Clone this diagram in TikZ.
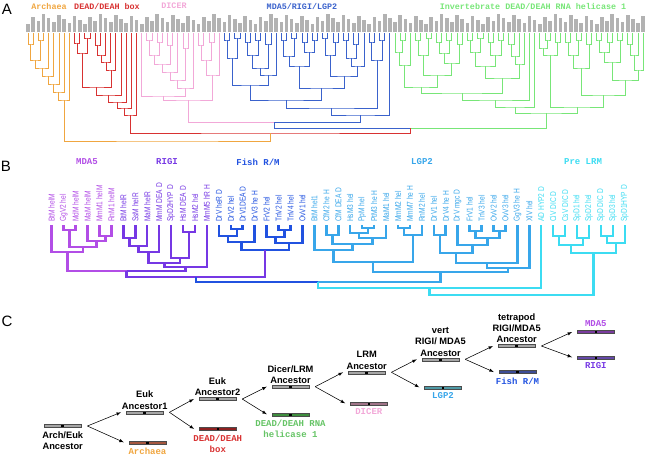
\documentclass[tikz,border=0pt]{standalone}
\usepackage{fontspec}
\setmainfont{Liberation Sans}
\newfontfamily\courfam{Liberation Mono}
\newfontfamily\narrowfam[FakeStretch=0.78]{Liberation Sans}
\usetikzlibrary{calc,positioning}

% tree colours
\definecolor{orgA}{HTML}{F0A640}
\definecolor{redA}{HTML}{D83232}
\definecolor{pnkA}{HTML}{F2A8D8}
\definecolor{bluA}{HTML}{3A62CC}
\definecolor{grnA}{HTML}{78E678}
\definecolor{mdaB}{HTML}{B24EE6}
\definecolor{rigB}{HTML}{7638E4}
\definecolor{fisB}{HTML}{2152E0}
\definecolor{lgpB}{HTML}{38A6EA}
\definecolor{preB}{HTML}{3CDCF2}
% bar colours
\definecolor{ancC}{HTML}{A6A6A6}
\definecolor{arcC}{HTML}{A5573F}
\definecolor{ddhC}{HTML}{8E2020}
\definecolor{helC}{HTML}{3E8E3E}
\definecolor{dicC}{HTML}{A07488}
\definecolor{lgpC}{HTML}{4E9AA6}
\definecolor{fisC}{HTML}{3D4D96}
\definecolor{mdaC}{HTML}{7A3C9E}
\definecolor{rigC}{HTML}{6448A8}

% join two clades (a),(b) at depth y, new clade coordinate (name)
\newcommand{\jn}[5][]{%
  \coordinate (tmp) at ($(#2)!.5!(#3)$);
  \coordinate (#5) at (tmp |- 0,#4);
  \draw[#1] (#2) |- (#5) -| (#3);}
% same, left and right half in their own colour
\newcommand{\jnx}[6]{%
  \coordinate (tmp) at ($(#3)!.5!(#4)$);
  \coordinate (#6) at (tmp |- 0,#5);
  \draw[#1] (#3) |- (#6);
  \draw[#2] (#6) -| (#4);}

\begin{document}
\begin{tikzpicture}[x=1pt, y=-1pt,
    panel/.style={font=\fontsize{15}{15}\selectfont, inner sep=0pt},
    tag/.style={font=\courfam\bfseries\fontsize{9}{11.5}\selectfont, align=center, inner sep=0.6pt},
    tagA/.style={font=\courfam\bfseries\fontsize{8.4}{9}\selectfont, inner sep=0pt},
    anc/.style={font=\bfseries\fontsize{9.3}{11.3}\selectfont, align=center, inner sep=0.6pt},
    leafB/.style={font=\narrowfam\fontsize{8.5}{9}\selectfont, rotate=90, anchor=west, inner sep=0pt},
    treeA/.style={line width=0.9pt},
    treeB/.style={line width=2.5pt},
    bar/.style={draw=black!70, line width=.4pt, minimum width=37pt, minimum height=3.2pt, inner sep=0pt,
      path picture={\fill[black] ([xshift=-1.3pt]path picture bounding box.south) rectangle ([xshift=1.3pt]path picture bounding box.north);}},
    evo/.style={-latex, line width=.55pt}]
\useasboundingbox (0,0) rectangle (653,459);

%% ---------------- A
\node[panel] (lblA) at (7,9) {A};
\node[tagA, text=orgA] (hA1) at (49,6) {Archaea};
\node[tagA, text=redA] (hA2) at (107,6) {DEAD/DEAH box};
\node[tagA, text=pnkA] (hA3) at (174,6) {DICER};
\node[tagA, text=bluA] (hA4) at (302,6) {MDA5/RIGI/LGP2};
\node[tagA, text=grnA] (hA5) at (533,6) {Invertebrate DEAD/DEAH RNA helicase 1};

\foreach \i in {0,...,119} {
  \coordinate (a\i) at ({28+5.17*\i},33);
  \fill[black!30] ({28+5.17*\i-1.8},32) rectangle ++(3.6,{-(8+mod(7*\i,11))});
}
\begin{scope}[treeA]
\foreach \l/\r/\y/\n in {a0/a1/44/o1, a2/a3/40/o2, o1/o2/60/o3, o3/a4/68/o4, o4/a5/76/o5,
    o5/a6/84/o6, o6/a7/92/o7, o7/a8/100/o8}
  {\jn[orgA]{\l}{\r}{\y}{\n}}
\foreach \l/\r/\y/\n in {a9/a10/43/r1, a11/a12/38/r2, r1/r2/53/r3, a13/a14/45/r4, r4/a15/55/r5,
    r5/a16/62/r6, r6/a17/70/r7, r3/r7/87/r8, r8/a18/95/r9, r9/a19/102/r10, r10/a20/108/r11,
    r11/a21/115/r12}
  {\jn[redA]{\l}{\r}{\y}{\n}}
\foreach \l/\r/\y/\n in {a23/a24/40/p1, a25/a26/42/p2, p1/p2/55/p3, a27/a28/45/p4, p3/p4/64/p5,
    p5/a29/72/p6, a30/a31/48/p7, p6/p7/80/p8, p8/a32/88/p9, a33/a34/45/p10, a35/a36/42/p11,
    p10/p11/60/p12, p12/a37/75/p13, a22/p9/96/p14, p14/p13/100/p15}
  {\jn[pnkA]{\l}{\r}{\y}{\n}}
\foreach \l/\r/\y/\n in {a38/a39/40/u1, a40/a41/38/u2, a42/a43/42/u3, a44/a45/40/u4, a46/a47/44/u5,
    u1/u2/58/u6, u3/u4/55/u7, u7/u5/68/u8, u8/a48/75/u9, u6/u9/85/u10,
    a49/a50/40/v1, a51/a52/38/v2, a53/a54/42/v3, a55/a56/40/v4, a57/a58/38/v5, a59/a60/42/v6,
    a61/a62/40/v7, a63/a64/44/v8, v1/v2/56/v9, v3/v4/52/v10, v9/v10/66/v11, v5/v6/55/v12,
    v7/v8/58/v13, v13/a65/66/v14, v12/v14/76/v15, v11/v15/88/v16, u10/v16/100/v17,
    a66/a67/42/w1, a68/a69/40/w2, w1/w2/60/w3, v17/w3/108/w4, w4/a70/115/w5}
  {\jn[bluA]{\l}{\r}{\y}{\n}}
\foreach \l/\r/\y/\n in {a72/a73/40/x1, a71/x1/52/x2, x2/a74/65/x3, a75/a76/40/x4, a77/a78/38/x5,
    x4/x5/55/x6, a79/a80/42/x7, a81/a82/40/x8, x7/x8/53/x9, a83/a84/44/x10, x9/x10/63/x11,
    x6/x11/75/x12, x3/x12/87/x13, a85/a86/40/x14, a87/a88/38/x15, x14/x15/52/x16,
    a89/a90/42/x17, a91/a92/40/x18, x17/x18/55/x19, x16/x19/66/x20, a93/a94/44/x21,
    x21/a95/56/x22, x22/a96/64/x23, x20/x23/78/x24, x13/x24/93/x25, x25/a97/100/x26,
    x26/a98/107/x27,
    a100/a101/40/y1, a99/y1/48/y2, a102/a103/42/y3, y2/y3/55/y4, a104/a105/42/y5,
    a106/a107/40/y6, y5/y6/55/y7, a108/a109/44/y8, y7/y8/68/y9, a110/a111/40/y10,
    a112/a113/42/y11, y10/y11/52/y12, a114/a115/40/y13, y12/y13/62/y14, a116/a117/44/y15,
    y15/a118/55/y16, y16/a119/70/y17, y14/y17/80/y18, y9/y18/95/y19, y4/y19/107/y20,
    x27/y20/113/y21}
  {\jn[grnA]{\l}{\r}{\y}{\n}}
\jnx{pnkA}{bluA}{p15}{w5}{122}{n3}
\jnx{bluA}{grnA}{n3}{y21}{128}{n2}
\jn[redA]{r12}{n2}{133}{n1}
\jn[orgA]{o8}{n1}{141}{n0}
\end{scope}

%% ---------------- B
\node[panel] (lblB) at (6,166) {B};
\node[tag, text=mdaB] (hB1) at (87,162) {MDA5};
\node[tag, text=rigB] (hB2) at (167,162) {RIGI};
\node[tag, text=fisB] (hB3) at (258,162) {Fish R/M};
\node[tag, text=lgpB] (hB4) at (422,162) {LGP2};
\node[tag, text=preB] (hB5) at (583,162) {Pre LRM};

\foreach \t [count=\i from 0] in {BtM helM,GgV2 hel,MdM helM,MaM helM,MmM1 helM,RnM1 helM}
  {\coordinate (c\i) at ({51.7+11.94*\i},225); \node[leafB, text=mdaB] (t\i) at ({51.7+11.94*\i},222) {\t};}
\foreach \t [count=\i from 6] in {BtM helR,SsM helR,MaM helR,MmM DEA D,SpD2HYP D,HsM DEA D,HsM2 hel,MmM5 hR H}
  {\coordinate (c\i) at ({51.7+11.94*\i},225); \node[leafB, text=rigB] (t\i) at ({51.7+11.94*\i},222) {\t};}
\foreach \t [count=\i from 14] in {DrV heR D,DrV2 hel,DrV1DEA D,DrV3 he H,FrV2 hel,TnV2 hel,TnV4 hel,OvV1 hel}
  {\coordinate (c\i) at ({51.7+11.94*\i},225); \node[leafB, text=fisB] (t\i) at ({51.7+11.94*\i},222) {\t};}
\foreach \t [count=\i from 22] in {BtM hel1,CfM2 he H,CfM DEA D,HsM3 hel,PpM hel,PtM3 he H,MaM1 hel,
    MmM2 hel,MmM7 he H,RnM2 hel,DrV1 hel,DrV4 he H,DrV mgc D,FrV1 hel,TnV3 hel,OvV2 hel,OvV3 hel,GgV3 he H,XlV hel}
  {\coordinate (c\i) at ({51.7+11.94*\i},225); \node[leafB, text=lgpB] (t\i) at ({51.7+11.94*\i},222) {\t};}
\foreach \t [count=\i from 41] in {AD HYP2 D,CiV DIC D,CsV DIC D,SpD1 hel,SpD2 hel,SpD DIC D,SpD3 hel,SpD1HYP D}
  {\coordinate (c\i) at ({51.7+11.94*\i},225); \node[leafB, text=preB] (t\i) at ({51.7+11.94*\i},222) {\t};}

\begin{scope}[treeB]
\foreach \l/\r/\y/\n in {c1/c2/230/km1, c4/c5/236/km2, c3/km2/241/km3, km1/km3/247/km4, c0/km4/252/km5}
  {\jn[mdaB]{\l}{\r}{\y}{\n}}
\foreach \l/\r/\y/\n in {c6/c7/238/kg1, kg1/c8/246/kg2, kg2/c9/252/kg3, c11/c12/232/kg4,
    c10/kg4/258/kg5, kg3/kg5/263/kg6, kg6/c13/267/kg7}
  {\jn[rigB]{\l}{\r}{\y}{\n}}
\foreach \l/\r/\y/\n in {c15/c16/229/kf1, c14/kf1/236/kf2, kf2/c17/242/kf3, c19/c20/230/kf4,
    c18/kf4/237/kf5, kf5/c21/243/kf6, kf3/kf6/250/kf7}
  {\jn[fisB]{\l}{\r}{\y}{\n}}
\foreach \l/\r/\y/\n in {c23/c24/235/kl1, c26/c27/228/kl2, c25/kl2/233/kl3, kl3/c28/238/kl4,
    kl1/kl4/244/kl5, c22/kl5/250/kl6, c29/c30/228/kl7, kl7/c31/235/kl8, kl6/kl8/262/kl9,
    c32/c33/235/kr1, c35/c36/231/kr2, c37/c38/231/kr3, kr2/kr3/238/kr4, c34/kr4/245/kr5,
    kr1/kr5/253/kr6, kr6/c39/263/kr7, kr7/c40/268/kr8, kl9/kr8/272/klg}
  {\jn[lgpB]{\l}{\r}{\y}{\n}}
\foreach \l/\r/\y/\n in {c42/c43/236/kp1, c44/c45/238/kp2, kp1/kp2/245/kp3, c46/c47/236/kp4,
    kp4/c48/243/kp5, kp3/kp5/253/kp6}
  {\jn[preB]{\l}{\r}{\y}{\n}}
\jnx{mdaB}{rigB}{km5}{kg7}{271}{kmr}
\jn[rigB]{kmr}{kf7}{277}{kmf}
\jnx{fisB}{lgpB}{kmf}{klg}{282}{kt}
\jn[preB]{kt}{c41}{288}{kq}
\jn[preB]{kq}{kp6}{295}{kroot}
\end{scope}

%% ---------------- C
\node[panel] (lblC) at (7,321) {C};

\node[bar, fill=ancC] (arch) at (62.7,426) {};
\node[bar, fill=ancC] (euk1) at (144.7,412.3) {};
\node[bar, fill=arcC] (arc) at (147.5,442.3) {};
\node[bar, fill=ancC] (euk2) at (217.5,399) {};
\node[bar, fill=ddhC] (ddh) at (217.8,429) {};
\node[bar, fill=ancC] (dlrm) at (290.5,386.7) {};
\node[bar, fill=helC] (hel) at (290.5,414.3) {};
\node[bar, fill=ancC] (lrm) at (366.7,372.3) {};
\node[bar, fill=dicC] (dic) at (368.8,403.3) {};
\node[bar, fill=ancC] (vert) at (440.5,359.3) {};
\node[bar, fill=lgpC] (lgp) at (443,387.3) {};
\node[bar, fill=ancC] (tetra) at (516.7,346) {};
\node[bar, fill=fisC] (fish) at (517.5,372) {};
\node[bar, fill=mdaC] (mda) at (595.8,332) {};
\node[bar, fill=rigC] (rig) at (595.8,357.3) {};

\node[anc, below=3pt of arch] (archL) {Arch/Euk\\Ancestor};
\node[anc, above=0.4pt of euk1] (euk1L) {Euk\\Ancestor1};
\node[tag, text=orgA, below=3pt of arc] (arcL) {Archaea};
\node[anc, above=0.4pt of euk2] (euk2L) {Euk\\Ancestor2};
\node[tag, text=redA, below=3pt of ddh] (ddhL) {DEAD/DEAH\\box};
\node[anc, above=0.4pt of dlrm] (dlrmL) {Dicer/LRM\\Ancestor};
\node[tag, text=grnA!85!black, below=3pt of hel] (helL) {DEAD/DEAH RNA\\helicase 1};
\node[anc, above=0.4pt of lrm] (lrmL) {LRM\\Ancestor};
\node[tag, text=pnkA, below=3pt of dic] (dicL) {DICER};
\node[anc, above=0.4pt of vert] (vertL) {vert\\RIGI/ MDA5\\Ancestor};
\node[tag, text=lgpB, below=3pt of lgp] (lgpL) {LGP2};
\node[anc, above=0.4pt of tetra] (tetraL) {tetrapod\\RIGI/MDA5\\Ancestor};
\node[tag, text=fisB, below=3pt of fish] (fishL) {Fish R/M};
\node[tag, text=mdaB, above=3pt of mda] (mdaL) {MDA5};
\node[tag, text=rigB, below=3pt of rig] (rigL) {RIGI};

\foreach \s/\t in {arch/euk1, arch/arc, euk1/euk2, euk1/ddh, euk2/dlrm, euk2/hel, dlrm/lrm,
    dlrm/dic, lrm/vert, lrm/lgp, vert/tetra, vert/fish, tetra/mda, tetra/rig}
  \draw[evo] ([xshift=6pt]\s.east) -- ([xshift=-5pt]\t.west);
\end{tikzpicture}
\end{document}
